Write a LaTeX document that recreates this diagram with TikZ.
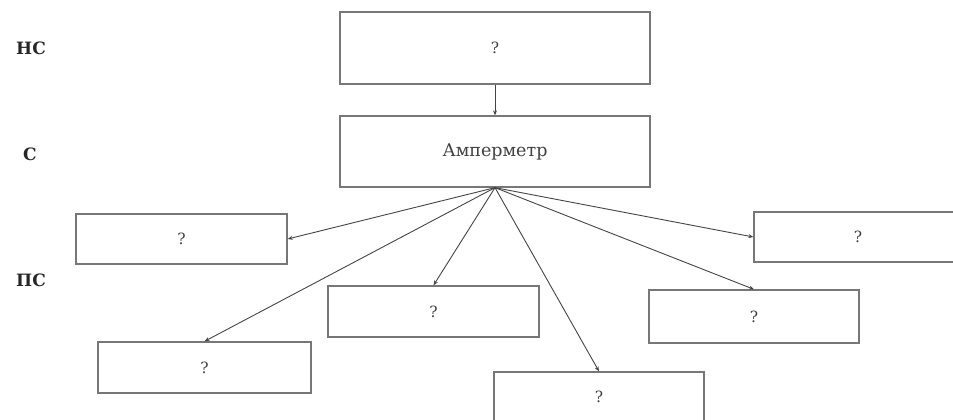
\documentclass[tikz,border=0pt]{standalone}
\usepackage{fontspec}
\setmainfont{DejaVu Serif}
\usetikzlibrary{arrows.meta}
\definecolor{boxc}{HTML}{777777}
\definecolor{arrc}{HTML}{444444}
\tikzset{
  box/.style={draw=boxc, line width=1.3pt, rectangle, inner sep=0pt, font=\fontsize{15.5}{17}\selectfont, text=black!75},
  conn/.style={draw=arrc, line width=0.9pt, -{Stealth[length=5pt,width=4pt]}},
  lvl/.style={font=\bfseries\fontsize{17}{19}\selectfont, text=black!85, inner sep=0pt}
}
\begin{document}
\begin{tikzpicture}[x=1pt,y=-1pt]
\useasboundingbox (0,0) rectangle (953,420);
\node[lvl] (ns) at (31,48) {НС};
\node[lvl] (s) at (30,154) {С};
\node[lvl] (ps) at (31,280) {ПС};
\node[box, minimum width=310pt, minimum height=72pt] (top) at (495,48) {?};
\node[box, minimum width=310pt, minimum height=71pt, font=\fontsize{17.5}{19}\selectfont] (amp) at (495,151.5) {Амперметр};
\node[box, minimum width=211pt, minimum height=50pt] (l1) at (181.5,239) {?};
\node[box, minimum width=208pt, minimum height=50pt] (r1) at (858,237) {?};
\node[box, minimum width=211pt, minimum height=51pt] (m1) at (433.5,311.5) {?};
\node[box, minimum width=210pt, minimum height=53pt] (r2) at (754,316.5) {?};
\node[box, minimum width=213pt, minimum height=51pt] (l2) at (204.5,367.5) {?};
\node[box, minimum width=210pt, minimum height=50pt] (m2) at (599,397) {?};
\draw[conn] (top.south) -- (amp.north);
\draw[conn] (amp.south) -- (l1.east);
\draw[conn] (amp.south) -- (r1.west);
\draw[conn] (amp.south) -- (m1.north);
\draw[conn] (amp.south) -- (l2.north);
\draw[conn] (amp.south) -- (m2.north);
\draw[conn] (amp.south) -- (r2.north);
\end{tikzpicture}
\end{document}
